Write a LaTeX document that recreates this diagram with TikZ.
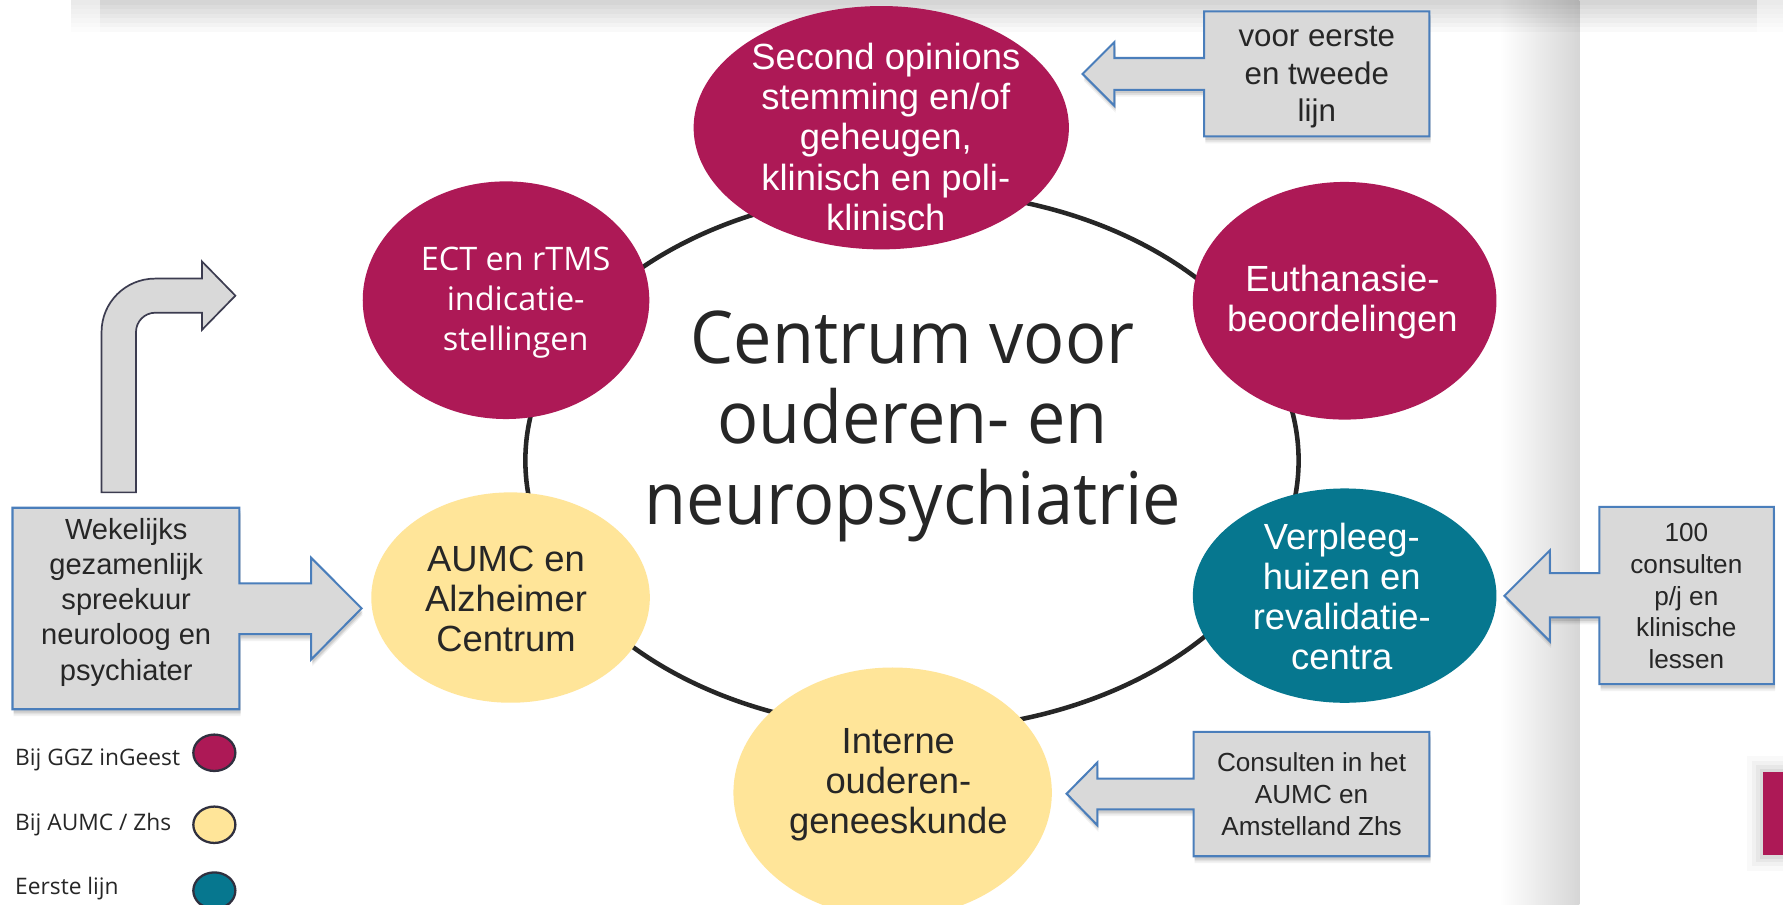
\documentclass[tikz,border=0pt]{standalone}
\usepackage{fontspec}
\setmainfont{Liberation Sans}
\newfontfamily\segoe{Open Sans}
\newfontfamily\segoewide[FakeStretch=0.94]{Open Sans}
\usetikzlibrary{shapes.geometric}
\definecolor{magentaC}{HTML}{AD1956}
\definecolor{yellowC}{HTML}{FFE599}
\definecolor{tealC}{HTML}{06778F}
\definecolor{boxfill}{HTML}{D9D9D9}
\definecolor{boxline}{HTML}{4A7EBB}
\definecolor{txt}{HTML}{262626}
\definecolor{navyline}{HTML}{3C3C50}
\definecolor{legline}{HTML}{30303F}
\definecolor{ringC}{HTML}{262626}
\tikzset{
  bubble/.style={ellipse, inner sep=0pt, draw=none},
  lbl/.style={anchor=base, align=center, inner sep=0pt},
  lglabel/.style={anchor=base west, inner sep=0pt, text=txt, font=\segoe\fontsize{20}{24}\selectfont},
  legdot/.style={ellipse, inner sep=0pt, draw=legline, line width=2pt, minimum width=37pt, minimum height=32pt},
  callout/.style={fill=boxfill, draw=boxline, line width=1.8pt, line join=miter},
  arialtxt/.style={font=\fontsize{32}{35.2}\selectfont},
}
\newcommand\shadowedshape[1]{%
  \foreach \s/\o in {6/0.05,4.5/0.07,3/0.09}{%
    \fill[black, opacity=\o, shift={(1,\s)}] #1;}%
  \filldraw[callout] #1;}
\begin{document}
\begin{tikzpicture}[x=1pt,y=-1pt]
\useasboundingbox (0,0) rectangle (1568,795);
\fill[white] (0,0) rectangle (1568,795);
% background bands
\shade[left color=white, right color=black!16] (1319,0) rectangle (1389,795);
\foreach \h in {4,8,...,28}{%
  \fill[black, opacity=0.022] (88,0) rectangle (1545,\h);
  \fill[black, opacity=0.012] (62,0) rectangle (88,\h);
  \fill[black, opacity=0.012] (1545,0) rectangle (1568,\h);}
% small magenta rectangle at the right edge
\foreach \r/\o in {14/0.025,10/0.03,6/0.04,3/0.05}{%
  \fill[black, opacity=\o] ({1550.5-\r},{679-\r}) rectangle (1568,{752+\r});}
\fill[magentaC] (1550.5,679) rectangle (1568,752);

% ring
\node[ellipse, draw=ringC, line width=4pt, minimum width=680pt, minimum height=474pt, inner sep=0pt] (ring) at (802,405) {};

% bubbles
\node[bubble, fill=magentaC, minimum width=330pt, minimum height=214pt] (second) at (775,112.3) {};
\node[bubble, fill=magentaC, minimum width=252pt, minimum height=209pt] (ect) at (445,264) {};
\node[bubble, fill=magentaC, minimum width=267pt, minimum height=209pt] (euth) at (1182.5,264.5) {};
\node[bubble, fill=yellowC, minimum width=245pt, minimum height=185pt] (aumc) at (449,525.5) {};
\node[bubble, fill=yellowC, minimum width=280pt, minimum height=220pt] (interne) at (785,697) {};
\node[bubble, fill=tealC, minimum width=267pt, minimum height=188.5pt] (verpleeg) at (1182.5,523.8) {};

% central title (anchor base = baseline of the last line)
\node[lbl, text=txt, font=\segoewide\fontsize{64}{70.7}\selectfont] (title) at (802.5,461)
  {Centrum voor\\ouderen- en\\neuropsychiatrie};

% bubble texts
\node[lbl, text=white, arialtxt] (secondtxt) at (779,202.3)
  {Second opinions\\stemming en/of\\geheugen,\\klinisch en poli-\\klinisch};
\node[lbl, text=white, font=\segoe\fontsize{28.5}{35}\selectfont] (ecttxt) at (453.5,307.8)
  {ECT en rTMS\\indicatie-\\stellingen};
\node[lbl, text=white, arialtxt] (euthtxt) at (1180.5,291.8) {Euthanasie-\\beoordelingen};
\node[lbl, text=txt, arialtxt] (aumctxt) at (445,572.6) {AUMC en\\Alzheimer\\Centrum};
\node[lbl, text=txt, arialtxt] (internetxt) at (790,733) {Interne\\ouderen-\\geneeskunde};
\node[lbl, text=white, arialtxt] (verpleegtxt) at (1180,589) {Verpleeg-\\huizen en\\revalidatie-\\centra};

% callout boxes with arrows
\shadowedshape{(1059,10) -- (1257,10) -- (1257,120) -- (1059,120) -- (1059,79) -- (980,79) -- (980,93) -- (952,65) -- (980,37) -- (980,51) -- (1059,51) -- cycle}
\node[lbl, text=txt, font=\fontsize{27.5}{33}\selectfont] (voortxt) at (1158,107) {voor eerste\\en tweede\\lijn};

\shadowedshape{(1406.5,445.7) -- (1560,445.7) -- (1560,601.7) -- (1406.5,601.7) -- (1406.5,543) -- (1363,543) -- (1363,564) -- (1323,524) -- (1363,484) -- (1363,504) -- (1406.5,504) -- cycle}
\node[lbl, text=txt, font=\fontsize{23}{27.9}\selectfont] (honderdtxt) at (1483,587.9) {100\\consulten\\p/j en\\klinische\\lessen};

\shadowedshape{(1049.6,643.6) -- (1257,643.6) -- (1257,753) -- (1049.6,753) -- (1049.6,711.7) -- (965,711.7) -- (965,725.7) -- (938,698) -- (965,670.6) -- (965,684.7) -- (1049.6,684.7) -- cycle}
\node[lbl, text=txt, font=\fontsize{23}{27.9}\selectfont] (consultentxt) at (1153.4,734.5) {Consulten in het\\AUMC en\\Amstelland Zhs};

\shadowedshape{(11,446.5) -- (210.5,446.5) -- (210.5,513) -- (273.6,513) -- (273.6,490.5) -- (318,535) -- (273.6,580) -- (273.6,557.7) -- (210.5,557.7) -- (210.5,623.7) -- (11,623.7) -- cycle}
\node[lbl, text=txt, font=\fontsize{25.6}{30.9}\selectfont] (wekelijkstxt) at (111,598) {Wekelijks\\gezamenlijk\\spreekuur\\neuroloog en\\psychiater};

% bent arrow
\filldraw[fill=boxfill, draw=navyline, line width=1.5pt, line join=miter]
  (89.3,433) -- (89.3,292) .. controls (89.3,266) and (110.3,245) .. (136.3,245)
  -- (177.7,245) -- (177.7,230) -- (207,260) -- (177.7,290) -- (177.7,275)
  -- (136.6,275) .. controls (127.2,275) and (119.6,282.6) .. (119.6,292)
  -- (119.6,433) -- cycle;

% legend
\node[legdot, fill=magentaC] (legggz) at (188.5,662) {};
\node[legdot, fill=yellowC] (legaumc) at (188.5,725.3) {};
\node[legdot, fill=tealC] (legeerste) at (188.5,783.2) {};
\node[lglabel] (legggztxt) at (13.2,672.8) {Bij GGZ inGeest};
\node[lglabel] (legaumctxt) at (13.2,730) {Bij AUMC / Zhs};
\node[lglabel] (legeerstetxt) at (13.2,786.2) {Eerste lijn};
\end{tikzpicture}
\end{document}
